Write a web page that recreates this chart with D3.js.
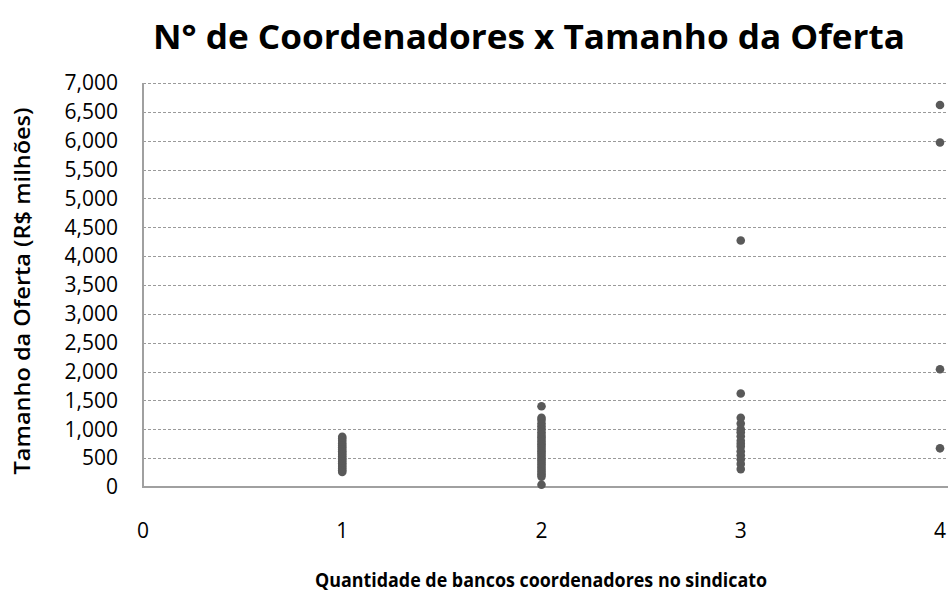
<!DOCTYPE html>
<html>
<head>
<meta charset="utf-8">
<script src="https://d3js.org/d3.v7.min.js"></script>
<style>
body { margin: 0; background: #fff; }
svg text { font-family: "Open Sans", "DejaVu Sans", sans-serif; fill: #000; }
</style>
</head>
<body>
<div id="chart"></div>
<script>
var w = 948, h = 597;
var margin = {left: 143, right: 8, top: 83, bottom: 109};

// offer size (R$ millions) by number of lead banks
var oneBank = [870, 840, 800, 760, 720, 690, 650, 620, 590, 560, 530, 500, 470, 440, 410, 380, 350, 320, 290, 260];
var twoBanks = [1400, 1200, 1160, 1100, 1050, 1000, 950, 900, 860, 820, 780, 740, 700, 660, 620, 580, 540, 500, 460, 420, 380, 340, 300, 260, 220, 180, 40];
var threeBanks = [4270, 1620, 1200, 1100, 1000, 950, 880, 800, 750, 700, 620, 550, 480, 400, 310];
var fourBanks = [6620, 5970, 2040, 670];

var xTicks = [0, 1, 2, 3, 4];
var yTicks = d3.range(0, 7001, 500);

var points = [];
[oneBank, twoBanks, threeBanks, fourBanks].forEach(function(arr, i) {
    arr.forEach(function(v) { points.push({n: i + 1, value: v}); });
});

var svg = d3.select("#chart").append("svg")
    .attr("width", w)
    .attr("height", h);

var x = d3.scaleLinear().domain([0, 4]).range([margin.left, 940]);
var y = d3.scaleLinear().domain([0, 7000]).range([h - margin.bottom - 1, margin.top]);

// grid
svg.selectAll(".grid")
    .data(yTicks.slice(1))
    .enter()
    .append("line")
    .attr("class", "grid")
    .attr("x1", margin.left)
    .attr("x2", w)
    .attr("y1", function(d) { return Math.round(y(d)) + 0.5; })
    .attr("y2", function(d) { return Math.round(y(d)) + 0.5; })
    .attr("stroke", "#9a9a9a")
    .attr("stroke-width", 1)
    .attr("stroke-dasharray", "3,2");

// axes lines
svg.append("line")
    .attr("x1", margin.left).attr("x2", margin.left)
    .attr("y1", y(7000)).attr("y2", y(0))
    .attr("stroke", "#a0a0a0").attr("stroke-width", 2);
svg.append("line")
    .attr("x1", margin.left - 1).attr("x2", w)
    .attr("y1", y(0)).attr("y2", y(0))
    .attr("stroke", "#a0a0a0").attr("stroke-width", 2);

// y tick labels
svg.selectAll(".ylab")
    .data(yTicks)
    .enter()
    .append("text")
    .attr("class", "ylab")
    .attr("x", 118)
    .attr("y", function(d) { return y(d); })
    .attr("dy", "0.35em")
    .attr("text-anchor", "end")
    .style("font-size", "21px")
    .text(d3.format(","));

// x tick labels
svg.selectAll(".xlab")
    .data(xTicks)
    .enter()
    .append("text")
    .attr("class", "xlab")
    .attr("x", function(d) { return x(d); })
    .attr("y", 531)
    .attr("dy", "0.35em")
    .attr("text-anchor", "middle")
    .style("font-size", "21px")
    .text(function(d) { return d; });

// points
svg.selectAll(".pt")
    .data(points)
    .enter()
    .append("circle")
    .attr("class", "pt")
    .attr("cx", function(d) { return x(d.n); })
    .attr("cy", function(d) { return y(d.value); })
    .attr("r", 4.3)
    .attr("fill", "#595959");

// titles
svg.append("text")
    .attr("x", 529)
    .attr("y", 37)
    .attr("dy", "0.35em")
    .attr("text-anchor", "middle")
    .attr("textLength", 752)
    .attr("lengthAdjust", "spacingAndGlyphs")
    .style("font-size", "34px")
    .style("font-weight", "bold")
    .text("N° de Coordenadores x Tamanho da Oferta");

svg.append("text")
    .attr("x", 541)
    .attr("y", 580)
    .attr("dy", "0.35em")
    .attr("text-anchor", "middle")
    .attr("textLength", 452)
    .attr("lengthAdjust", "spacingAndGlyphs")
    .style("font-size", "19px")
    .style("font-weight", "bold")
    .text("Quantidade de bancos coordenadores no sindicato");

svg.append("text")
    .attr("transform", "translate(23,291) rotate(-90)")
    .attr("dy", "0.35em")
    .attr("text-anchor", "middle")
    .attr("textLength", 367)
    .attr("lengthAdjust", "spacingAndGlyphs")
    .style("font-size", "21px")
    .style("font-weight", "600")
    .text("Tamanho da Oferta (R$ milhões)");
</script>
</body>
</html>
